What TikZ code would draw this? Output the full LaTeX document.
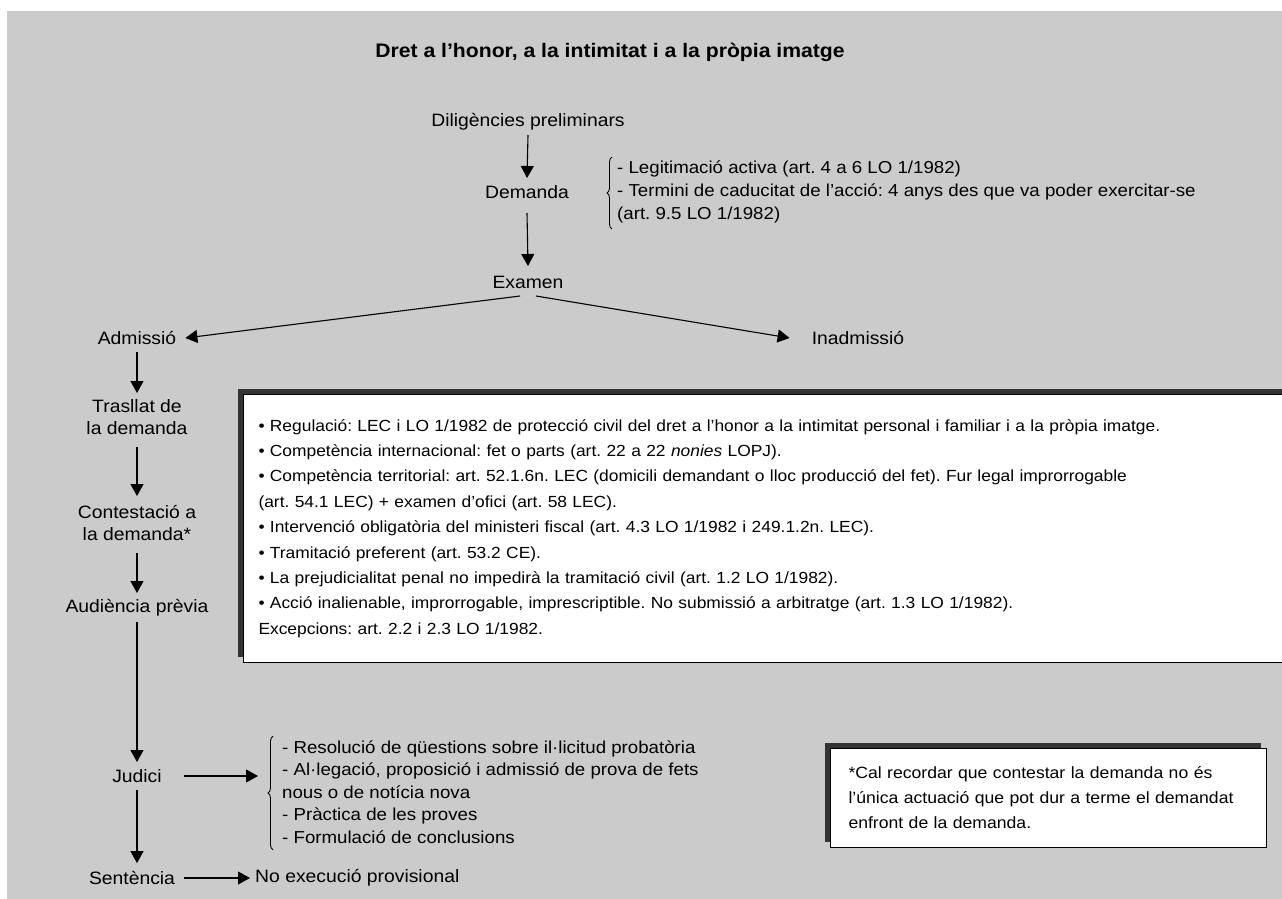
\documentclass[tikz,border=0pt]{standalone}
\usepackage{fontspec}
\setmainfont{Liberation Sans}[FakeStretch=1.08]
\usetikzlibrary{arrows.meta,decorations.pathreplacing,shadows}
\definecolor{bggray}{HTML}{CBCBCB}
\definecolor{shadowgray}{HTML}{333333}
\begin{document}
\frenchspacing
\begin{tikzpicture}[x=1pt,y=-1pt,
  lab/.style={font=\fontsize{17.9}{22}\selectfont, inner sep=0pt, align=center},
  listtext/.style={font=\fontsize{17.3}{22.6}\selectfont, inner sep=0pt, align=left, anchor=west},
  arr/.style={line width=1.1pt, -{Triangle[width=13pt,length=12pt]}},
  bracestyle/.style={line width=0.9pt, decorate, decoration={brace, amplitude=5pt}},
  box/.style={draw=black, line width=1pt, fill=white, anchor=north west,
    drop shadow={shadow xshift=-6pt, shadow yshift=6pt, fill=shadowgray, opacity=1}},
  ]
\useasboundingbox (0,0) rectangle (1282,899);
\fill[bggray] (7,11) rectangle (1290,905);

% title
\node[font=\fontsize{19.6}{22}\selectfont\bfseries, inner sep=0pt] (title) at (610,52) {Dret a l’honor, a la intimitat i a la pròpia imatge};

% main column
\node[lab] (dil) at (528,122) {Diligències preliminars};
\node[lab] (dem) at (527,192) {Demanda};
\node[lab] (exa) at (528,282) {Examen};
\node[lab] (adm) at (137,338) {Admissió};
\node[lab] (inad) at (858,338) {Inadmissió};
\node[lab] (tras) at (137,417) {Trasllat de\\la demanda};
\node[lab] (cont) at (137,523) {Contestació a\\la demanda*};
\node[lab] (aud) at (137,608) {Audiència prèvia};
\node[lab] (jud) at (137,776) {Judici};
\node[lab] (sent) at (132,878) {Sentència};
\node[lab, anchor=west] (noex) at (255,878) {No execució provisional};

% Demanda list
\node[listtext] (demlist) at (617,192) {- Legitimació activa (art. 4 a 6 LO 1/1982)\\- Termini de caducitat de l’acció: 4 anys des que va poder exercitar-se\\(art. 9.5 LO 1/1982)};
\draw[bracestyle] ([xshift=-5pt,yshift=-6pt]demlist.south west) -- ([xshift=-5pt,yshift=4pt]demlist.north west);

% Judici list
\node[listtext] (judlist) at (282,792) {- Resolució de qüestions sobre il·licitud probatòria\\- Al·legació, proposició i admissió de prova de fets\\nous o de notícia nova\\- Pràctica de les proves\\- Formulació de conclusions};
\draw[bracestyle] ([xshift=-9pt,yshift=-6pt]judlist.south west) -- ([xshift=-9pt,yshift=4pt]judlist.north west);

% big box
\node[box, minimum width=1050pt, minimum height=268pt, text width=1020pt, inner xsep=15pt, inner ysep=0pt,
  font=\fontsize{16.1}{25.4}\selectfont, align=left] (bigbox) at (243,394) {%
• Regulació: LEC i LO 1/1982 de protecció civil del dret a l’honor a la intimitat personal i familiar i a la pròpia imatge.\\
• Competència internacional: fet o parts (art. 22 a 22 \textit{nonies} LOPJ).\\
• Competència territorial: art. 52.1.6n. LEC (domicili demandant o lloc producció del fet). Fur legal improrrogable\\
(art. 54.1 LEC) + examen d’ofici (art. 58 LEC).\\
• Intervenció obligatòria del ministeri fiscal (art. 4.3 LO 1/1982 i 249.1.2n. LEC).\\
• Tramitació preferent (art. 53.2 CE).\\
• La prejudicialitat penal no impedirà la tramitació civil (art. 1.2 LO 1/1982).\\
• Acció inalienable, improrrogable, imprescriptible. No submissió a arbitratge (art. 1.3 LO 1/1982).\\
Excepcions: art. 2.2 i 2.3 LO 1/1982.};

% small box
\node[box, minimum width=430pt, minimum height=99pt, text width=400pt, inner xsep=18pt, inner ysep=0pt,
  font=\fontsize{16.3}{25}\selectfont, align=left] (note) at (830,748) {%
*Cal recordar que contestar la demanda no és\\
l’única actuació que pot dur a terme el demandat\\
enfront de la demanda.};

% arrows
\draw[arr] ([yshift=-13pt]dil.center) -- ([yshift=14pt]dem.center);
\draw[arr] ([yshift=-21pt]dem.center) -- ([yshift=16pt]exa.center);
\draw[arr] ([xshift=-8pt,yshift=-14pt]exa.center) -- ([xshift=9pt]adm.east);
\draw[arr] ([xshift=8pt,yshift=-14pt]exa.center) -- ([xshift=-22pt]inad.west);
\draw[arr] ([yshift=-14pt]adm.center) -- ([yshift=24pt]tras.center);
\draw[arr] ([yshift=-30pt]tras.center) -- ([yshift=27pt]cont.center);
\draw[arr] ([yshift=-30pt]cont.center) -- ([yshift=15pt]aud.center);
\draw[arr] ([yshift=-14pt]aud.center) -- ([yshift=14pt]jud.center);
\draw[arr] ([yshift=-14pt]jud.center) -- ([yshift=8pt]jud.center |- sent.north);
\draw[arr] ([xshift=22pt]jud.east) -- ([xshift=-24pt]judlist.west |- jud.east);
\draw[arr] ([xshift=9pt]sent.east) -- ([xshift=-5pt]noex.west);
\end{tikzpicture}
\end{document}
